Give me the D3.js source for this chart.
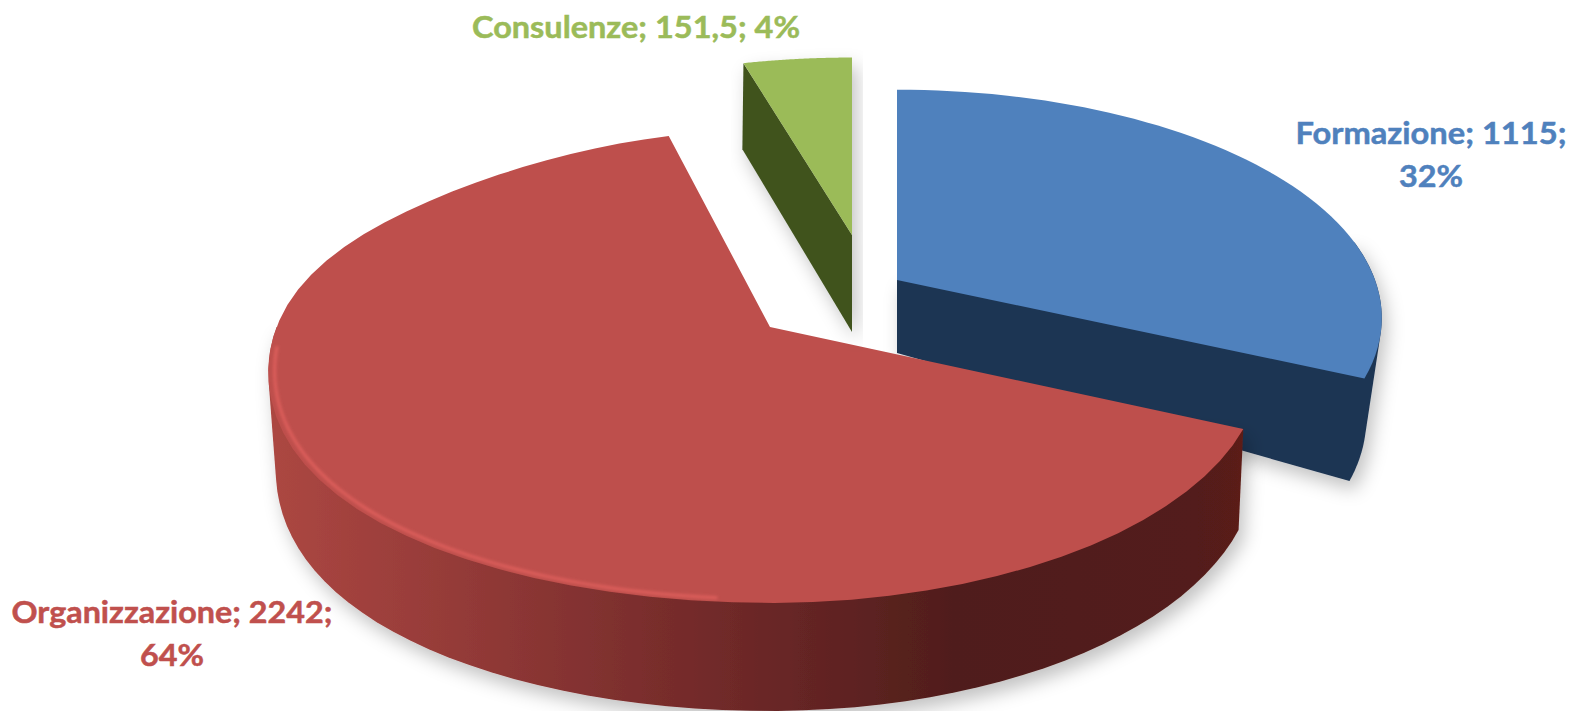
<!DOCTYPE html>
<html><head><meta charset="utf-8">
<script src="https://cdn.jsdelivr.net/npm/d3@7/dist/d3.min.js"></script>
<style>html,body{margin:0;padding:0;background:#fff;overflow:hidden}svg{display:block}text{font-family:Lato,"Open Sans",sans-serif;font-weight:700;stroke-width:.5}</style>
</head><body><svg id="c" width="1571" height="711"></svg>
<script>
const categories = ["Formazione","Organizzazione","Consulenze"];
const values = [1115,2242,151.5];
const topColors = ["#4F81BD","#BE4F4C","#9BBB59"];
const sideColors = ["#1F3552","url(#redSide)","#40521F"];
const labelColors = ["#4F81BD","#C0504D","#9BBB59"];

// layout of the exploded slices
const K = 0.1665;
const layout = [
 {cx:897,cy:280,rxL:478,rxR:478,xk:0,bump:0,ry:222,apex:73,rim:100,rimV:6,insetL:.032,insetR:.032,rimFrom:80,cut:"end"},
 {cx:770,cy:327,rxL:480,rxR:484,xk:.09,bump:.04,ry:230,apex:70,rim:96,rimV:12,insetL:.015,insetR:.01,rimTo:270,cut:null},
 {cx:852,cy:235,rxL:470,rxR:470,xk:0,bump:0,ry:207,apex:97,rim:86,rimV:0,insetL:-.01,insetR:0,cut:"start"}
];
const labels = [
 {lines:(c,v,p)=>[`${c}; ${v};`,p],x:1431,y:[144,187],w:[271,64]},
 {lines:(c,v,p)=>[`${c}; ${v};`,p],x:172,y:[623,666],w:[321,64]},
 {lines:(c,v,p)=>[`${c}; ${v}; ${p}`],x:636,y:[38],w:[328]}
];

const svg = d3.select("#c");
const defs = svg.append("defs");
const g = defs.append("linearGradient").attr("id","redSide").attr("gradientUnits","userSpaceOnUse")
 .attr("x1",270).attr("x2",1245).attr("y1",0).attr("y2",0);
[[0,"#AC4742"],[.17,"#973C39"],[.38,"#7B2E2D"],[.54,"#662525"],[.7,"#501E1B"],[.95,"#521E1A"],[1,"#5C1E19"]].forEach(s=>g.append("stop").attr("offset",s[0]).attr("stop-color",s[1]));
const sh = defs.append("filter").attr("id","shadow").attr("x","-10%").attr("y","-20%").attr("width","120%").attr("height","150%");
sh.append("feDropShadow").attr("dx",5).attr("dy",9).attr("stdDeviation",9).attr("flood-color","#000").attr("flood-opacity",.24);
defs.append("filter").attr("id","soft").append("feGaussianBlur").attr("stdDeviation",1.5);

const slices = d3.pie().sort(null).value(d=>d)(values);
const line = d3.line();
const total = d3.sum(values);
const rad = d=>d*Math.PI/180;

function topPt(L,a,r){
  const u=Math.sin(a)*r, v=-Math.cos(a)*r, s=1/(1-K*v);
  const rx=u<0?L.rxL*(1+L.xk*v):L.rxR;
  const e=(a-rad(285))/rad(25), f=1+L.bump*Math.exp(-e*e);
  return [L.cx+rx*u*s*f, L.cy+L.ry*v*s*f];
}
function botPt(L,a,r){
  const p=topPt(L,a,r), v=-Math.cos(a);
  const t=L.apex+(L.rim+L.rimV*v-L.apex)*r;
  const inset=p[0]<L.cx?L.insetL:L.insetR;
  return [p[0]-(p[0]-L.cx)*inset*r, p[1]+t];
}
const sweep=(a0,a1)=>d3.range(0,61).map(i=>a0+(a1-a0)*i/60);

const layer = svg.selectAll("g.slice").data(slices).join("g").attr("class","slice");
layer.each(function(d,i){
  const L=layout[i], sel=d3.select(this), solid=sel.append("g").attr("filter","url(#shadow)");
  let pts=[];
  // rim
  let r0=null,r1=null;
  if(L.rimFrom!==undefined){r0=rad(L.rimFrom);r1=d.endAngle;}
  if(L.rimTo!==undefined){r0=d.startAngle;r1=rad(L.rimTo);}
  if(r0!==null) sweep(r0,r1).forEach(a=>{pts.push(topPt(L,a,1),botPt(L,a,1));});
  // cut face
  if(L.cut){
    const a=L.cut==="end"?d.endAngle:d.startAngle;
    pts.push(topPt(L,a,0),topPt(L,a,1),botPt(L,a,1),botPt(L,a,0));
  }
  solid.append("path").attr("d",line(d3.polygonHull(pts))+"Z").attr("fill",sideColors[i]);
  // top face
  const top=[topPt(L,0,0)].concat(sweep(d.startAngle,d.endAngle).map(a=>topPt(L,a,1)));
  (i===2?solid:sel).append("path").attr("d",line(top)+"Z").attr("fill",topColors[i]);
  // bevel highlight along the front of the large slice
  if(i===1){
    sel.append("path").attr("d",line(sweep(rad(185),rad(265)).map(a=>topPt(L,a,.988))))
      .attr("fill","none").attr("stroke","#DE5F5C").attr("stroke-width",3).attr("stroke-linecap","round").attr("filter","url(#soft)");
  }
});

labels.forEach((lb,i)=>{
  const val=String(values[i]).replace(".",",");
  const pct=Math.round(values[i]/total*100)+"%";
  lb.lines(categories[i],val,pct).forEach((t,j)=>{
    svg.append("text").attr("x",lb.x).attr("y",lb.y[j]).attr("text-anchor","middle")
      .attr("font-size",31).attr("fill",labelColors[i]).attr("stroke",labelColors[i]).text(t)
      .attr("textLength",lb.w[j]).attr("lengthAdjust","spacingAndGlyphs");
  });
});
</script></body></html>
